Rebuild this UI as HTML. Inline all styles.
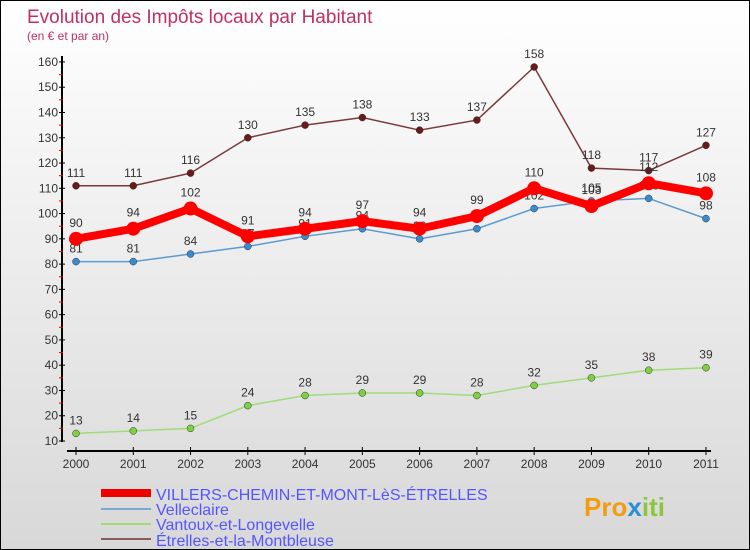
<!DOCTYPE html>
<html><head><meta charset="utf-8"><style>
body{margin:0}
#c{width:750px;height:550px;position:relative;background:linear-gradient(#fff,#d8d8d8);font-family:"Liberation Sans",sans-serif;overflow:hidden;box-sizing:border-box;border:1px solid #000}
</style></head><body>
<div id="c">
<svg id="s" width="750" height="550" style="position:absolute;left:0;top:0">
<text x="26" y="22" font-size="19" fill="#c0315f">Evolution des Impôts locaux par Habitant</text>
<text x="26" y="39" font-size="12" fill="#c0315f">(en € et par an)</text>
<g id="axes"></g><g id="series"></g>
<g>
<rect x="100" y="488" width="50" height="8" fill="#e00"/>
<text x="155" y="499" font-size="16" fill="#55f">VILLERS-CHEMIN-ET-MONT-LèS-ÉTRELLES</text>
<rect x="100" y="507" width="50" height="2" fill="#7aa9d0"/>
<text x="155" y="514" font-size="16" fill="#55f">Velleclaire</text>
<rect x="100" y="522" width="50" height="2" fill="#9fdc7a"/>
<text x="155" y="529" font-size="16" fill="#55f">Vantoux-et-Longevelle</text>
<rect x="100" y="537" width="50" height="2" fill="#8b5a5a"/>
<text x="155" y="545" font-size="16" fill="#55f">Étrelles-et-la-Montbleuse</text>
</g>
<text x="583" y="515" font-size="26" font-weight="bold" fill="#f39c12">Pro<tspan fill="#2a8fd6">x</tspan><tspan fill="#8cc63f">iti</tspan></text>
</svg>
</div>
<script>
const years=["2000","2001","2002","2003","2004","2005","2006","2007","2008","2009","2010","2011"];
const yTicks=[10,20,30,40,50,60,70,80,90,100,110,120,130,140,150,160];
const villers=[90,94,102,91,94,97,94,99,110,103,112,108];
const velleclaire=[81,81,84,87,91,94,90,94,102,105,106,98];
const vantoux=[13,14,15,24,28,29,29,28,32,35,38,39];
const etrelles=[111,111,116,130,135,138,133,137,158,118,117,127];
const NS="http://www.w3.org/2000/svg";
const X=i=>75+i*57.27, Y=v=>440-(v-10)*2.527;
function mk(t,a,p){const e=document.createElementNS(NS,t);for(const k in a)e.setAttribute(k,a[k]);p.appendChild(e);return e;}
const ax=document.getElementById('axes');
let e=mk('line',{x1:61,y1:55,x2:61,y2:441,stroke:'#000','stroke-width':2},ax);


e=mk('line',{x1:66,y1:450,x2:710,y2:450,stroke:'#000','stroke-width':2},ax);


yTicks.forEach((v,i)=>{
 mk('line',{x1:58,y1:Y(v),x2:64,y2:Y(v),stroke:'#000'},ax);
 if(i<yTicks.length-1) mk('line',{x1:58,y1:Y(v+5),x2:62,y2:Y(v+5),stroke:'#e00'},ax);
 const t=mk('text',{x:57,y:Y(v)+4,'font-size':12,fill:'#333','text-anchor':'end'},ax);t.textContent=v;
 
 
});
years.forEach((y,i)=>{
 mk('line',{x1:X(i),y1:446,x2:X(i),y2:454,stroke:'#000'},ax);
 const t=mk('text',{x:X(i),y:467,'font-size':12,fill:'#333','text-anchor':'middle'},ax);t.textContent=y;
 
 
});
const sg=document.getElementById('series');
function draw(name,data,color,w,r,dot,labelDy){
 const g=mk('g',{},sg);
 
 
 mk('polyline',{points:data.map((v,i)=>X(i)+','+Y(v)).join(' '),fill:'none',stroke:color,'stroke-width':w,'stroke-linejoin':'round'},g);
 data.forEach((v,i)=>{
  const c=mk('circle',{cx:X(i),cy:Y(v),r:r,fill:dot,stroke:r<6?'#333':'none','stroke-width':0.5},g);
  
  
  const t=mk('text',{x:X(i),y:Y(v)-labelDy,'font-size':12,fill:'#333','text-anchor':'middle'},g);t.textContent=v;
 });
}
draw('vantoux',vantoux,'#9fdc7a',1.5,3.5,'#7fd040',9);
draw('velleclaire',velleclaire,'#5b9bd0',1.5,3.5,'#3a8ad0',9);
draw('etrelles',etrelles,'#7a3a3a',1.5,3.5,'#6a1a1a',9);
draw('villers',villers,'#f00',8,7,'#f00',12);
</script>
</body></html>
